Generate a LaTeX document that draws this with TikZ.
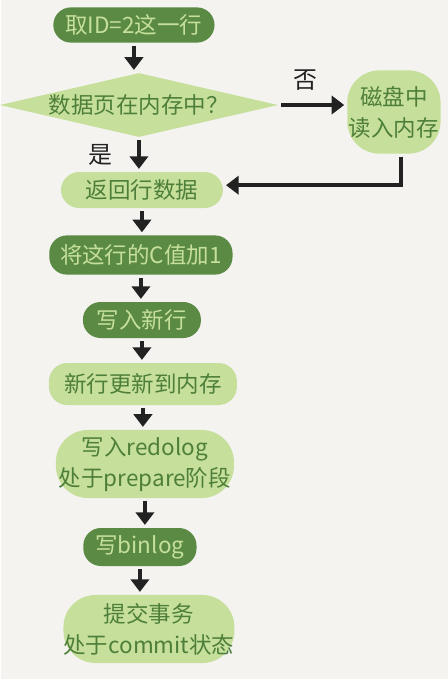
\documentclass[tikz,border=0pt]{standalone}
\usepackage{fontspec}
\setmainfont{Noto Sans CJK SC}
\usetikzlibrary{shapes.geometric,arrows.meta}
\definecolor{paper}{HTML}{F4F3F0}
\definecolor{darkgreen}{HTML}{5A8A44}
\definecolor{lightgreen}{HTML}{C6E09B}
\definecolor{textgreen}{HTML}{4E7F3A}
\definecolor{ink}{HTML}{222222}
\begin{document}
\begin{tikzpicture}[x=0.025cm,y=-0.025cm,
	darknode/.style={rectangle,rounded corners=0.44cm,fill=darkgreen,text=lightgreen,inner sep=0pt,font=\fontsize{16}{22}\selectfont},
	lightnode/.style={rectangle,rounded corners=0.46cm,fill=lightgreen,text=textgreen,inner sep=0pt,font=\fontsize{16}{22}\selectfont},
	lightbox/.style={rectangle,rounded corners=0.8cm,fill=lightgreen,text=textgreen,inner sep=0pt,align=center,font=\fontsize{16}{22}\selectfont},
	decision/.style={diamond,shape aspect=4.3,fill=lightgreen,text=textgreen,inner sep=0pt,minimum width=6.95cm,minimum height=1.6cm,font=\fontsize{16}{22}\selectfont},
	answer/.style={text=ink,font=\fontsize{17}{20}\selectfont},
	arr/.style={line width=2.6pt,draw=ink,-{Triangle[width=13pt,length=9pt]},shorten <=2pt,shorten >=2pt}]
		% Background
		\fill[paper] (0,0) rectangle (447,679);
		
		% Fetch row
		\node[darknode,minimum width=4.03cm,minimum height=0.88cm] (fetch) at (133,25) {取ID=2这一行};
		
		% Check page
		\node[decision] (check) at (138,105) {数据页在内存中？};
		\node[answer] (no) at (305,80) {否};
		\node[answer] (yes) at (100,155) {是};
		
		% Disk
		\node[lightbox,minimum width=2.33cm,minimum height=2.08cm] (disk) at (393,112) {磁盘中\\读入内存};
		
		% Steps
		\node[lightnode,minimum width=4.05cm,minimum height=0.9cm] (rowdata) at (141,190) {返回行数据};
		\node[darknode,minimum width=4.58cm,minimum height=0.98cm] (addone) at (140,255) {将这行的C值加1};
		\node[darknode,minimum width=2.95cm,minimum height=0.9cm] (newrow) at (141,320) {写入新行};
		\node[lightnode,minimum width=4.7cm,minimum height=1.05cm] (memory) at (142,384) {新行更新到内存};
		\node[lightbox,minimum width=4.45cm,minimum height=1.7cm] (redolog) at (144,464) {写入redolog\\处于prepare阶段};
		\node[darknode,minimum width=2.83cm,minimum height=0.95cm] (binlog) at (139,547) {写binlog};
		\node[lightbox,minimum width=4.05cm,minimum height=1.7cm] (commit) at (148,629) {提交事务\\处于commit状态};
		
		% Arrows
		\draw[arr] (fetch.south) -- (fetch.south |- check.north);
		\draw[arr] (check.east) -- (check.east -| disk.west);
		\draw[arr] (check.south) -- (check.south |- rowdata.north);
		\draw[arr] ([xshift=0.18cm]disk.south) |- ([yshift=0.12cm]rowdata.east);
		\draw[arr] (rowdata.south) -- (rowdata.south |- addone.north);
		\draw[arr] (addone.south) -- (addone.south |- newrow.north);
		\draw[arr] (newrow.south) -- (newrow.south |- memory.north);
		\draw[arr] (memory.south) -- (memory.south |- redolog.north);
		\draw[arr] (redolog.south) -- (redolog.south |- binlog.north);
		\draw[arr] (binlog.south) -- (binlog.south |- commit.north);
	\end{tikzpicture}
\end{document}
